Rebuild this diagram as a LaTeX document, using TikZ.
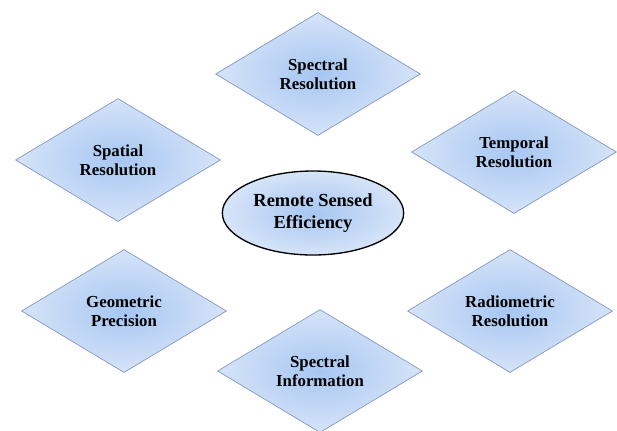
\documentclass[tikz,border=0pt]{standalone}
\usepackage{fontspec}
\setmainfont{Liberation Serif}
\usetikzlibrary{shapes.geometric}
\definecolor{diamin}{RGB}{166,198,242}
\definecolor{diamout}{RGB}{214,228,248}
\definecolor{diamline}{RGB}{128,148,188}

\begin{document}
\begin{tikzpicture}[x=0.75pt,y=-0.75pt,
  factor/.style={diamond,draw=diamline,line width=0.5pt,inner sep=0pt,
    minimum width=153.75pt,minimum height=92.25pt,shading=radial,
    inner color=diamin,outer color=diamout,align=center,
    font=\fontsize{12.6}{14}\selectfont\bfseries},
  hub/.style={ellipse,draw=black,line width=1pt,inner sep=0pt,
    minimum width=136pt,minimum height=63pt,shading=radial,
    inner color=diamin,outer color=diamout,align=center,
    font=\fontsize{13.8}{16}\selectfont\bfseries}]
  \useasboundingbox (0,0) rectangle (617,430);
  % six factors round the centre
  \foreach \px/\py/\nm/\txt in {318/74/specres/{Spectral\\Resolution},
      118/160/spatial/{Spatial\\Resolution},
      514/152/temporal/{Temporal\\Resolution},
      124/311/geometric/{Geometric\\Precision},
      510/311/radiometric/{Radiometric\\Resolution},
      320/371/specinfo/{Spectral\\Information}}{
    \node[factor] (\nm) at (\px,\py) {\txt};
  }
  \node[hub] (rse) at (313,213) {Remote Sensed\\Efficiency};
\end{tikzpicture}
\end{document}
